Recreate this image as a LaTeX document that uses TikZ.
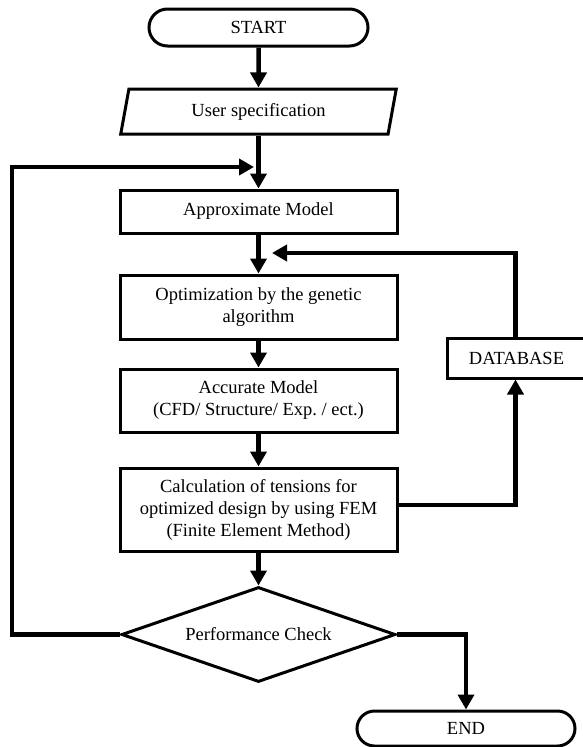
\documentclass[tikz,border=0pt]{standalone}
\usepackage{fontspec}
\setmainfont{Liberation Serif}
\usepackage{tikz}
\usetikzlibrary{arrows.meta,shapes.geometric,shapes.misc}

\begin{document}
\frenchspacing
\begin{tikzpicture}[->,>={Triangle[length=15pt,width=16pt]},x=1pt,y=-1pt,line width=4.5pt,
  every node/.style={font=\fontsize{18.5}{22}\selectfont,line width=3pt,inner sep=0pt,align=center},
  terminal/.style={draw,rounded rectangle,minimum width=219pt,minimum height=37pt},
  io/.style={draw,trapezium,trapezium left angle=76,trapezium right angle=104,trapezium stretches=true,minimum width=276pt,minimum height=45pt},
  process/.style={draw,rectangle,minimum width=277pt},
  decision/.style={draw,diamond,aspect=2.9,minimum width=274pt,minimum height=95pt}]
  \useasboundingbox (0,0) rectangle (583,747);

  \node[terminal]				(start) at (258.5,27.5)		{START};
  \node[io]					(spec) [below of=start,node distance=84pt]	{User specification};
  \node[process,minimum height=43pt]	(approx) [below of=spec,node distance=100pt]	{Approximate Model};
  \node[process,minimum height=64pt]	(optim) [below of=approx,node distance=95.5pt]	{Optimization by the genetic\\algorithm};
  \node[process,minimum height=63pt]	(accurate) [below of=optim,node distance=93.5pt]	{Accurate Model\\(CFD/ Structure/ Exp. / ect.)};
  \node[process,minimum height=83pt]	(fem) [below of=accurate,node distance=109pt]	{Calculation of tensions for\\optimized design by using FEM\\(Finite Element Method)};
  \node[decision]				(check) [below of=fem,node distance=125pt]	{Performance Check};
  \node[terminal,minimum width=218pt,minimum height=35pt]	(stop) [below of=check,node distance=94pt,xshift=207.5pt]	{END};
  \node[draw,minimum width=139pt,minimum height=40pt]	(database) [right of=accurate,node distance=258pt,yshift=42.5pt]	{DATABASE};

  \coordinate (back) at (12,167);
  \coordinate (backin) at (254,167);
  \coordinate (dbin) at (272,253);

  \path 	(start) edge (spec)
		(spec) edge (approx)
		(approx) edge (optim)
		(optim) edge (accurate)
		(accurate) edge (fem)
		(fem) edge (check);

  \draw (check.west) -| (back) -- (backin);
  \draw ([yshift=4.5pt]fem.east) -| ([xshift=-1pt]database.south);
  \draw ([xshift=-1pt]database.north) |- (dbin);
  \draw (check.east) -| (stop.north);
\end{tikzpicture}
\end{document}
